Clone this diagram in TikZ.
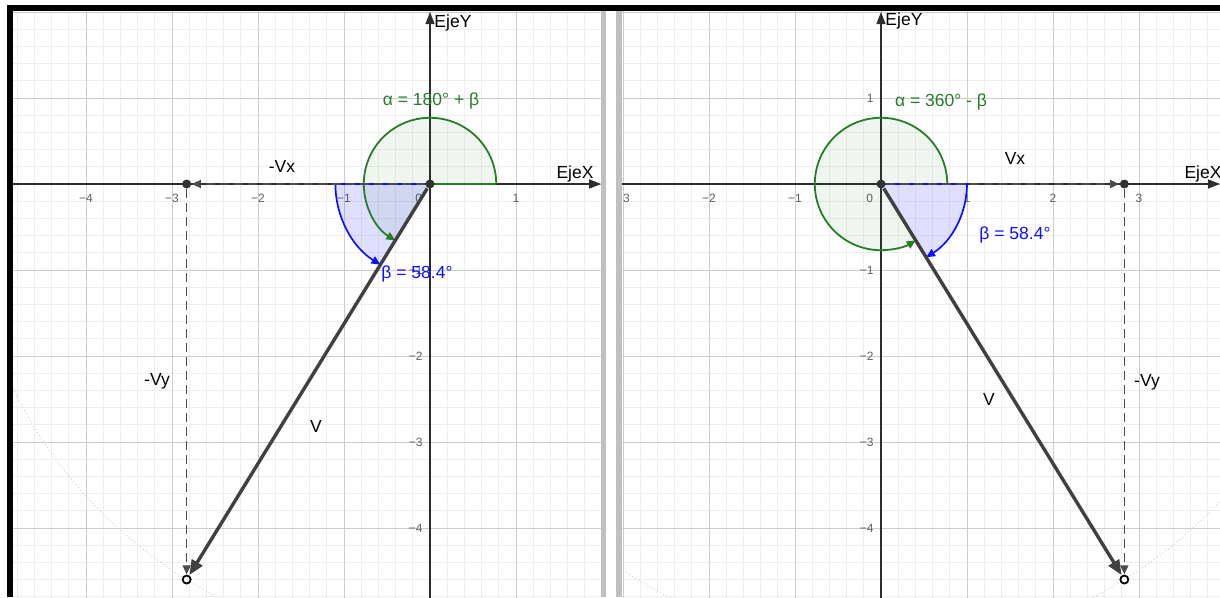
\documentclass[tikz,border=0pt]{standalone}
\usepackage{fontspec}
\setmainfont{Liberation Sans}
\usetikzlibrary{arrows.meta}
\definecolor{ggreen}{RGB}{40,125,40}
\definecolor{gblue}{RGB}{15,15,255}
\definecolor{gridmaj}{RGB}{205,205,205}
\definecolor{gridmin}{RGB}{238,238,238}
\definecolor{vecgray}{RGB}{64,64,64}
\definecolor{dashgray}{RGB}{75,75,75}
\definecolor{dotgray}{RGB}{50,50,50}
\definecolor{ticklab}{RGB}{95,95,95}
\definecolor{sepgray}{RGB}{192,192,192}
\definecolor{axisgray}{RGB}{45,45,45}
\definecolor{circgray}{RGB}{205,205,205}
\tikzset{
  minorline/.style={gridmin, line width=0.9pt},
  majorline/.style={gridmaj, line width=1pt},
  axisline/.style={axisgray, line width=1.2pt, -{Triangle[length=12pt,width=9pt]}},
  ticktext/.style={text=ticklab, font=\fontsize{12}{12}\selectfont, inner sep=0pt},
  lbl/.style={font=\fontsize{17.5}{20}\selectfont, inner sep=0pt},
  ptnode/.style={circle, minimum size=10pt, inner sep=0pt},
  dashline/.style={dashgray, line width=1.6pt, dash pattern=on 9pt off 5pt, -{Triangle[length=9pt,width=8pt]}},
  vecline/.style={vecgray, line width=3.4pt, -{Triangle[length=15pt,width=12pt]}},
  alphaarc/.style={ggreen, line width=1.8pt},
  betaarc/.style={gblue, line width=1.7pt},
  arctip/.style={-{Triangle[length=9pt,width=8pt]}},
  bigcircle/.style={circgray, line width=0.7pt, dash pattern=on 1.2pt off 2.4pt},
}
\begin{document}
\begin{tikzpicture}[x=1pt,y=-1pt]
\useasboundingbox (0,0) rectangle (1220,597);
\fill[white] (0,0) rectangle (1220,597);
% ---------- left panel ----------
\begin{scope}
\clip (13,11) rectangle (601,597);
\begin{scope}[shift={(430,184)}, x=86pt, y=86pt]
  \foreach \i in {-30,...,15} \draw[minorline] (\i/5,-6) -- (\i/5,3);
  \foreach \j in {-30,...,15} \draw[minorline] (-6,\j/5) -- (4,\j/5);
  \foreach \i in {-6,...,3} \draw[majorline] (\i,-6) -- (\i,3);
  \foreach \j in {-6,...,3} \draw[majorline] (-6,\j) -- (4,\j);
  \draw[bigcircle] (0,0) circle[radius=5.4];
  \draw[axisline] (-6,0) -- (1.99,0);
  \draw[axisline] (0,-6) -- (0,2.0);
  \node[ticktext] (La) at (-4,-0.165) {−4};
  \node[ticktext] (Lb) at (-3,-0.165) {−3};
  \node[ticktext] (Lc) at (-2,-0.165) {−2};
  \node[ticktext] (Ld) at (-1,-0.165) {−1};
  \node[ticktext] (Le) at (-0.13,-0.165) {0};
  \node[ticktext] (Lf) at (1,-0.165) {1};
  \node[ticktext, anchor=east] (Lg) at (-0.085,-1) {−1};
  \node[ticktext, anchor=east] (Lh) at (-0.085,-2) {−2};
  \node[ticktext, anchor=east] (Li) at (-0.085,-3) {−3};
  \node[ticktext, anchor=east] (Lj) at (-0.085,-4) {−4};
  % angle sectors
  \fill[ggreen, fill opacity=0.07] (0,0) -- (0.77,0) arc[start angle=0, end angle=238.4, radius=0.77] -- cycle;
  \fill[gblue, fill opacity=0.13] (0,0) -- (-1.1,0) arc[start angle=180, end angle=238.4, radius=1.1] -- cycle;
  \draw[alphaarc] (0,0) -- (0.77,0);
  \draw[alphaarc, arctip] (0.77,0) arc[start angle=0, end angle=238.4, radius=0.77];
  \draw[betaarc] (0,0) -- (-1.1,0);
  \draw[betaarc, arctip] (-1.1,0) arc[start angle=180, end angle=238.4, radius=1.1];
  % points and vectors
  \node[ptnode] (O1) at (0,0) {};
  \node[ptnode] (X1) at (-2.8295,0) {};
  \node[ptnode] (P1) at (-2.8295,-4.5993) {};
  \draw[dashline] (O1) -- (X1);
  \draw[dashline] (X1) -- (P1);
  \draw[vecline] (O1) -- (P1);
  \fill[dotgray] (O1.center) circle[radius=4.5pt];
  \fill[dotgray] (X1.center) circle[radius=4.5pt];
  \draw[black, line width=1.8pt, fill=white] (P1.center) circle[radius=4pt];
  % labels
  \node[lbl] (EX1) at (1.686,0.116) {EjeX};
  \node[lbl] (EY1) at (0.267,1.872) {EjeY};
  \node[lbl, text=ggreen] (A1) at (0.012,0.965) {α = 180° + β};
  \node[lbl, text=gblue] (B1) at (-0.151,-1.047) {β = 58.4°};
  \node[lbl] (VX1) at (-1.721,0.209) {-Vx};
  \node[lbl] (VY1) at (-3.174,-2.291) {-Vy};
  \node[lbl] (V1) at (-1.326,-2.814) {V};
\end{scope}
\end{scope}
% ---------- right panel ----------
\begin{scope}
\clip (622,11) rectangle (1220,597);
\begin{scope}[shift={(881,184)}, x=86pt, y=86pt]
  \foreach \i in {-30,...,25} \draw[minorline] (\i/5,-6) -- (\i/5,3);
  \foreach \j in {-30,...,15} \draw[minorline] (-6,\j/5) -- (5,\j/5);
  \foreach \i in {-6,...,5} \draw[majorline] (\i,-6) -- (\i,3);
  \foreach \j in {-6,...,3} \draw[majorline] (-6,\j) -- (5,\j);
  \draw[bigcircle] (0,0) circle[radius=5.4];
  \draw[axisline] (-6,0) -- (3.942,0);
  \draw[axisline] (0,-6) -- (0,2.0);
  \node[ticktext] (Ra) at (-3,-0.165) {−3};
  \node[ticktext] (Rb) at (-2,-0.165) {−2};
  \node[ticktext] (Rc) at (-1,-0.165) {−1};
  \node[ticktext] (Rd) at (-0.13,-0.165) {0};
  \node[ticktext] (Re) at (1,-0.165) {1};
  \node[ticktext] (Rf) at (2,-0.165) {2};
  \node[ticktext] (Rg) at (3,-0.165) {3};
  \node[ticktext, anchor=east] (Rh) at (-0.085,1) {1};
  \node[ticktext, anchor=east] (Ri) at (-0.085,-1) {−1};
  \node[ticktext, anchor=east] (Rj) at (-0.085,-2) {−2};
  \node[ticktext, anchor=east] (Rk) at (-0.085,-3) {−3};
  \node[ticktext, anchor=east] (Rl) at (-0.085,-4) {−4};
  % angle sectors
  \fill[ggreen, fill opacity=0.07] (0,0) -- (0.77,0) arc[start angle=0, end angle=301.6, radius=0.77] -- cycle;
  \fill[gblue, fill opacity=0.13] (0,0) -- (1,0) arc[start angle=0, end angle=-58.4, radius=1] -- cycle;
  \draw[alphaarc] (0,0) -- (0.77,0);
  \draw[alphaarc, arctip] (0.77,0) arc[start angle=0, end angle=301.6, radius=0.77];
  \draw[betaarc] (0,0) -- (1,0);
  \draw[betaarc, arctip] (1,0) arc[start angle=0, end angle=-58.4, radius=1];
  % points and vectors
  \node[ptnode] (O2) at (0,0) {};
  \node[ptnode] (X2) at (2.8295,0) {};
  \node[ptnode] (P2) at (2.8295,-4.5993) {};
  \draw[dashline] (O2) -- (X2);
  \draw[dashline] (X2) -- (P2);
  \draw[vecline] (O2) -- (P2);
  \fill[dotgray] (O2.center) circle[radius=4.5pt];
  \fill[dotgray] (X2.center) circle[radius=4.5pt];
  \draw[black, line width=1.8pt, fill=white] (P2.center) circle[radius=4pt];
  % labels
  \node[lbl] (EX2) at (3.744,0.116) {EjeX};
  \node[lbl] (EY2) at (0.267,1.895) {EjeY};
  \node[lbl, text=ggreen] (A2) at (0.698,0.953) {α = 360° - β};
  \node[lbl, text=gblue] (B2) at (1.558,-0.593) {β = 58.4°};
  \node[lbl] (VX2) at (1.558,0.291) {Vx};
  \node[lbl] (VY2) at (3.093,-2.302) {-Vy};
  \node[lbl] (V2) at (1.256,-2.5) {V};
\end{scope}
\end{scope}
% ---------- frame and separators ----------
\fill[black] (7,5) rectangle (1220,11);
\fill[black] (7,5) rectangle (13,597);
\fill[sepgray] (601,11) rectangle (606,597);
\fill[sepgray] (616,11) rectangle (622,597);
\end{tikzpicture}
\end{document}
